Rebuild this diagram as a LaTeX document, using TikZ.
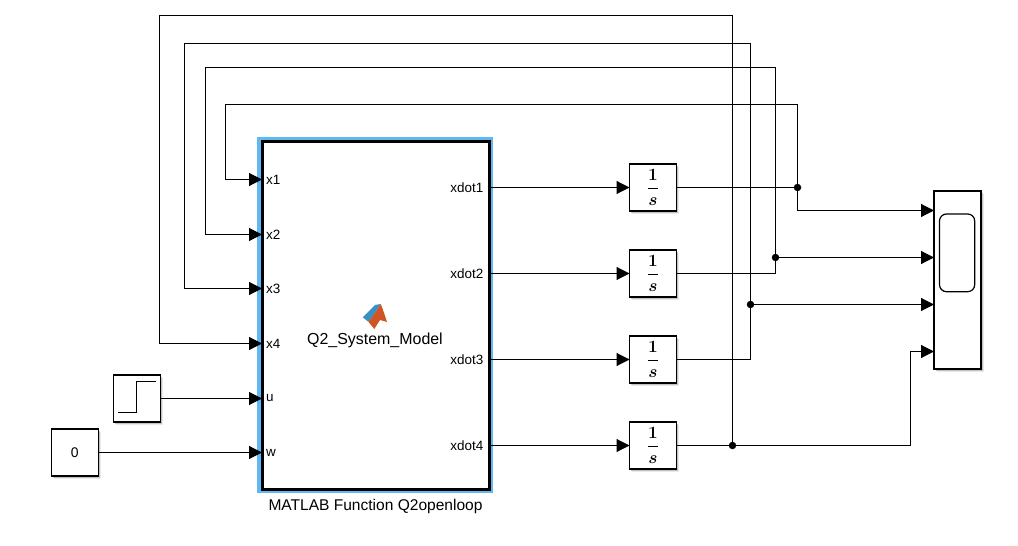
\documentclass[tikz,border=0pt]{standalone}
\usepackage{fontspec}
\setmainfont{Liberation Sans}
\usetikzlibrary{arrows.meta,shadows}
\definecolor{selectblue}{HTML}{5FB8F2}
\definecolor{logoblue}{HTML}{3A8FC4}
\definecolor{logored}{HTML}{CF5525}

\begin{document}
\begin{tikzpicture}[
    x=1bp, y=-1bp,
    block/.style={
        draw,
        fill=white,
        line width=1.2bp,
        outer sep=0pt,
        inner sep=0pt,
        minimum size=47bp,
        drop shadow={shadow xshift=3pt, shadow yshift=-3pt, fill=black!12, opacity=.7},
        drop shadow={shadow xshift=1.8pt, shadow yshift=-1.8pt, fill=black!30, opacity=.7}
    },
    port/.style={inner sep=0pt, font=\fontsize{13.5}{16}\selectfont},
    inport/.style={port, anchor=west},
    outport/.style={port, anchor=east},
    title/.style={inner sep=0pt, font=\fontsize{15.6}{18}\selectfont},
    integ/.style={block, font=\fontsize{18}{22}\selectfont\boldmath},
    dot/.style={circle, fill=black, inner sep=0pt, minimum size=7.5bp},
    wire/.style={line width=1.1bp},
    arrow/.style={wire, -{Triangle[length=13bp, width=13bp]}}
]
\useasboundingbox (0,0) rectangle (1018,546);

\node[draw=none, fill=selectblue, minimum width=235.5bp, minimum height=356bp, outer sep=0pt] (select) at (375.2,315) {};
\node[draw, fill=white, line width=3bp, minimum width=227bp, minimum height=347bp, outer sep=0pt] (model) at (375.5,315.5) {};

\coordinate (p1) at (266,179.5);
\coordinate (p2) at (266,234.5);
\coordinate (p3) at (266,288.5);
\coordinate (p4) at (266,343.5);
\coordinate (p5) at (266,398.5);
\coordinate (p6) at (266,452.5);

\node[inport] (x1) at (p1) {x1};
\node[inport] (x2) at (p2) {x2};
\node[inport] (x3) at (p3) {x3};
\node[inport] (x4) at (p4) {x4};
\node[inport] (u) at (p5) {u};
\node[inport] (w) at (p6) {w};

\node[outport] (xdot1) at (483.5,187.5) {xdot1};
\node[outport] (xdot2) at (483.5,273.5) {xdot2};
\node[outport] (xdot3) at (483.5,359.5) {xdot3};
\node[outport] (xdot4) at (483.5,445.5) {xdot4};

\node[inner sep=0pt, font=\fontsize{16}{18}\selectfont] (name) at (375,340) {Q2\_System\_Model};
\node[title] (caption) at (375.5,506) {MATLAB Function Q2openloop};

% logo
\fill[logoblue] (362.7,317.3) -- (375,305) -- (380.7,304) -- (373,316) -- (368.3,321.7) -- cycle;
\fill[logored] (380.7,304) .. controls (383,309) and (385,316) .. (387,322) -- (380,320) -- (374.3,329) -- (368.3,321.7) -- (373,316) -- cycle;

\node[integ] (int1) at (653,187.5) {$\displaystyle\frac{1}{s}$};
\node[integ] (int2) at (653,273.5) {$\displaystyle\frac{1}{s}$};
\node[integ] (int3) at (653,359.5) {$\displaystyle\frac{1}{s}$};
\node[integ] (int4) at (653,445.5) {$\displaystyle\frac{1}{s}$};

\node[block] (step) at (137,398.5) {};
\draw[line width=1.1bp] (118,412.5) -- (136.5,412.5) -- (136.5,381.5) -- (156,381.5);
\node[block, font=\fontsize{14}{16}\selectfont] (const) at (74.7,452.5) {0};

\node[block, minimum width=47bp, minimum height=178bp] (scope) at (957.5,280) {};
\draw[line width=1.2bp, rounded corners=7bp] (939.5,214) rectangle (974.7,291.7);

\coordinate (s1) at (934,210.5);
\coordinate (s2) at (934,257.5);
\coordinate (s3) at (934,304.5);
\coordinate (s4) at (934,351.5);

\node[dot] (j1) at (797.5,187.5) {};
\node[dot] (j2) at (775.5,257.5) {};
\node[dot] (j3) at (750.5,304.5) {};
\node[dot] (j4) at (732.5,445.5) {};

\coordinate (top1) at (225.5,104.5);
\coordinate (top2) at (205.5,67.5);
\coordinate (top3) at (184.5,43.5);
\coordinate (top4) at (159.5,15.5);
\coordinate (turn4) at (910.5,351.5);

\draw[arrow] (model.east |- int1) -- (int1);
\draw[arrow] (model.east |- int2) -- (int2);
\draw[arrow] (model.east |- int3) -- (int3);
\draw[arrow] (model.east |- int4) -- (int4);

\draw[wire] (int1) -- (j1);
\draw[wire] (int2.east) -| (j2);
\draw[wire] (int3.east) -| (j3);
\draw[wire] (int4) -- (j4);

\draw[arrow] (j1) |- (s1);
\draw[arrow] (j2) -- (s2);
\draw[arrow] (j3) -- (s3);
\draw[arrow] (j4) -| (turn4) -- (s4);

\draw[arrow] (j1) |- (top1) |- (model.west |- p1);
\draw[arrow] (j2) |- (top2) |- (model.west |- p2);
\draw[arrow] (j3) |- (top3) |- (model.west |- p3);
\draw[arrow] (j4) |- (top4) |- (model.west |- p4);

\draw[arrow] (step) -- (model.west |- p5);
\draw[arrow] (const) -- (model.west |- p6);
\end{tikzpicture}
\end{document}
